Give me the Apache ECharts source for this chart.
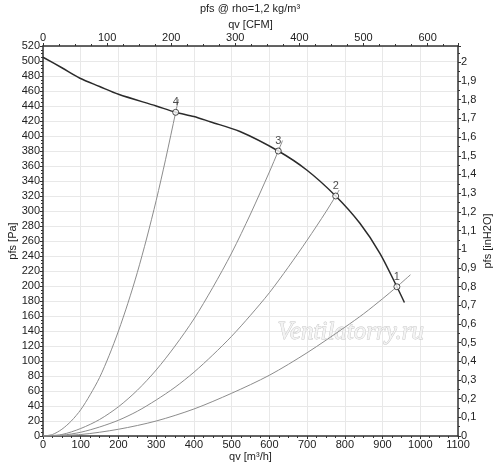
<!DOCTYPE html>
<html>
<head>
<meta charset="utf-8">
<script src="https://cdn.jsdelivr.net/npm/echarts@6/dist/echarts.min.js"></script>
<style>
  html, body { margin: 0; padding: 0; background: #fff; }
  #chart { width: 500px; height: 470px; }
</style>
</head>
<body>
<div id="chart"></div>
<script>
// fan curve pfs [Pa] over qv [m3/h]
const qvFan  = [0, 50, 98, 150, 200, 300, 351.7, 400, 443, 522, 623.6, 699, 775.8, 840, 893, 938, 958];
const pfsFan = [505, 491, 477, 466, 455.6, 440, 431.6, 426, 419, 406, 380, 354.7, 320, 283.6, 243.6, 199, 178];

// system curves
const qvSys1  = [0, 100, 200, 300, 400, 500, 600, 700, 800, 850, 900, 938, 974];
const pfsSys1 = [0, 2, 9, 20, 36, 57, 81, 111, 145, 163, 183, 199, 215];
const qvSys2  = [0, 50, 100, 150, 200, 250, 300, 350, 400, 450, 500, 550, 600, 650, 700, 750, 775.8, 785];
const pfsSys2 = [0, 1, 5, 12, 21, 33, 48, 65, 85, 108, 133, 161, 191, 225, 261, 299, 320, 328];
const qvSys3  = [0, 50, 100, 150, 200, 250, 300, 350, 400, 450, 500, 550, 600, 623.6, 635];
const pfsSys3 = [0, 2, 10, 22, 39, 61, 88, 120, 156, 198, 244, 296, 352, 380, 394];
const qvSys4  = [0, 25, 50, 75, 100, 125, 150, 175, 200, 225, 250, 275, 300, 325, 351.7, 359];
const pfsSys4 = [0, 2, 9, 20, 35, 55, 78, 107, 140, 177, 218, 264, 314, 369, 431.6, 449];

// operating points
const opLabels = ['1', '2', '3', '4'];
const qvOp  = [938, 775.8, 623.6, 351.7];
const pfsOp = [199, 320, 380, 431.6];

const M3H_PER_CFM = 1.69901;
const PA_PER_INH2O = 249.089;

const pairs = (xs, ys) => xs.map((x, i) => [x, ys[i]]);

const FONT = '"Liberation Sans", Arial, sans-serif';
const axisColor = '#333';
const labelStyle = { fontSize: 11, color: '#222', fontFamily: FONT };
const nameStyle = { fontSize: 11, color: '#222', fontFamily: FONT };

function axisBase(extra) {
  return Object.assign({
    type: 'value',
    nameMoveOverlap: false,
    axisLine: { show: true, onZero: false, lineStyle: { color: axisColor, width: 1.5 } },
    axisTick: { show: true, length: 3, lineStyle: { color: axisColor } },
    minorTick: { show: true, splitNumber: 4, length: 2, lineStyle: { color: axisColor } },
    splitLine: { show: false },
    axisLabel: Object.assign({ margin: 3, formatter: v => String(v) }, labelStyle),
    nameTextStyle: nameStyle
  }, extra);
}

const chart = echarts.init(document.getElementById('chart'));

const sysLine = (xs, ys) => ({
  type: 'line',
  data: pairs(xs, ys),
  smooth: 0.3,
  showSymbol: false,
  lineStyle: { color: '#8c8c8c', width: 1 },
  z: 2
});

chart.setOption({
  animation: false,
  backgroundColor: '#fff',
  title: {
    text: 'pfs @ rho=1,2 kg/m³',
    left: 'center',
    top: 0,
    padding: [3, 5],
    textStyle: { fontSize: 11, fontWeight: 'normal', color: '#222', fontFamily: FONT }
  },
  grid: { left: 43, right: 42, top: 46, bottom: 34, containLabel: false, outerBoundsMode: 'none' },
  xAxis: [
    axisBase({
      position: 'bottom',
      min: 0, max: 1100, interval: 100,
      splitLine: { show: true, lineStyle: { color: '#e8e8e8', width: 1 } },
      name: 'qv [m³/h]', nameLocation: 'middle', nameGap: 15
    }),
    axisBase({
      position: 'top',
      min: 0, max: 1100 / M3H_PER_CFM, interval: 100,
      axisLabel: Object.assign({ margin: 3, showMaxLabel: false, formatter: v => String(v) }, labelStyle),
      name: 'qv [CFM]', nameLocation: 'middle', nameGap: 16
    })
  ],
  yAxis: [
    axisBase({
      position: 'left',
      min: 0, max: 520, interval: 20,
      splitLine: { show: true, lineStyle: { color: '#e8e8e8', width: 1 } },
      name: 'pfs [Pa]', nameLocation: 'middle', nameGap: 25, nameRotate: 90
    }),
    axisBase({
      position: 'right',
      min: 0, max: 520 / PA_PER_INH2O, interval: 0.1,
      minorTick: { show: true, splitNumber: 2, length: 2, lineStyle: { color: axisColor } },
      axisLabel: Object.assign({
        margin: 3,
        showMaxLabel: false,
        formatter: v => String(+v.toFixed(2)).replace('.', ',')
      }, labelStyle),
      name: 'pfs [inH2O]', nameLocation: 'middle', nameGap: 24, nameRotate: 90
    })
  ],
  graphic: [{
    type: 'text',
    left: 277,
    top: 320,
    silent: true,
    z: 1,
    style: {
      text: 'Ventilatorry.ru',
      font: 'italic 25px "Liberation Serif", serif',
      fill: '#f3f3f3',
      stroke: '#c4c4c4',
      lineWidth: 0.8
    }
  }],
  series: [
    sysLine(qvSys1, pfsSys1),
    sysLine(qvSys2, pfsSys2),
    sysLine(qvSys3, pfsSys3),
    sysLine(qvSys4, pfsSys4),
    {
      type: 'line',
      data: pairs(qvFan, pfsFan),
      smooth: 0.3,
      showSymbol: false,
      lineStyle: { color: '#2b2b2b', width: 1.5 },
      z: 3
    },
    {
      type: 'scatter',
      data: qvOp.map((q, i) => ({ value: [q, pfsOp[i]], name: opLabels[i] })),
      symbol: 'circle',
      symbolSize: 6,
      itemStyle: { color: '#fff', borderColor: '#222', borderWidth: 1 },
      label: {
        show: true,
        position: 'top',
        distance: 1,
        formatter: p => p.name,
        fontSize: 11,
        color: '#222',
        fontFamily: FONT
      },
      z: 4
    }
  ]
});
</script>
</body>
</html>
